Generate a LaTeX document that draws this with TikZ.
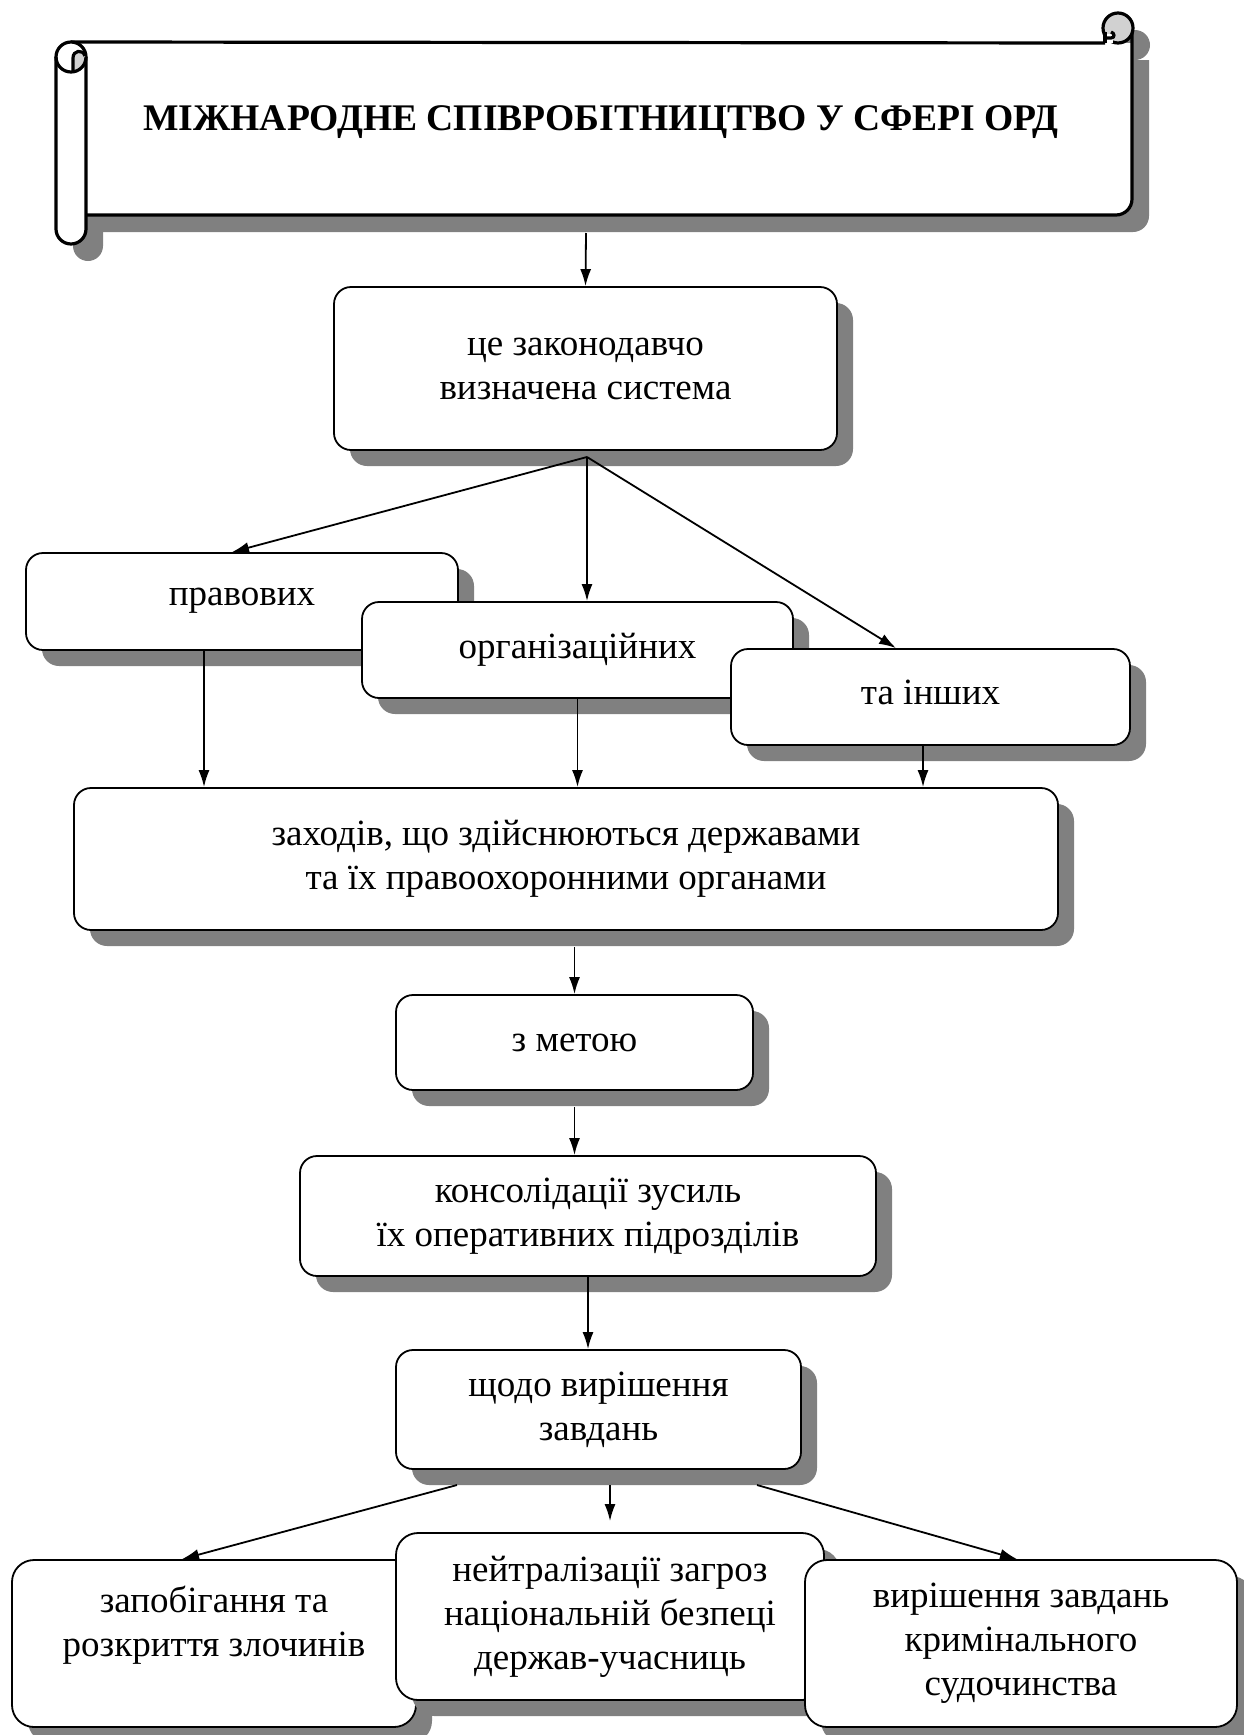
\documentclass[tikz,border=0pt]{standalone}
\usepackage{fontspec}
\setmainfont{Liberation Serif}
\usetikzlibrary{shadows}
\usetikzlibrary{calc}
\usetikzlibrary{arrows.meta}
\definecolor{shadowgray}{gray}{0.5}
\definecolor{curlgray}{gray}{0.82}
\tikzset{
    mybox/.style = {rectangle, rounded corners=8.5pt, draw=black, line width=0.9pt, fill=white, align=center, inner sep=0pt,
        font=\fontsize{18.5}{22}\selectfont,
        drop shadow={shadow xshift=8pt, shadow yshift=-8pt, fill=shadowgray, opacity=1}},
    myboxr/.style = {mybox, rounded corners=11pt},
    sz/.style 2 args = {minimum width=#1*0.5pt, minimum height=#2*0.5pt},
    titletext/.style = {font=\fontsize{18.8}{22}\selectfont\bfseries},
    scrolline/.style = {line width=1.6pt, line join=round},
    edgen/.style = {-{Latex[length=8.5pt,width=5.5pt]}, line width=0.9pt},
}

\begin{document}
\begin{tikzpicture}[x=0.5pt, y=-0.5pt]
\useasboundingbox (0,0) rectangle (1243,1735);

% scroll: shadow first
\begin{scope}[shift={(17,17)}]
\fill[shadowgray] (86,43) -- (1132,43) -- (1132,199) arc[start angle=0, end angle=-90, radius=8pt] -- (86,215) -- cycle;
\fill[shadowgray] (1118,28) circle[radius=7.5pt];
\fill[shadowgray, rounded corners=7.5pt] (56,42) rectangle (86,244);
\end{scope}
\fill[white] (86,43) -- (1132,43) -- (1132,199) arc[start angle=0, end angle=-90, radius=8pt] -- (86,215) -- cycle;
\draw[scrolline] (71,42) -- (1105,43);
\draw[scrolline] (1132,28) -- (1132,199) arc[start angle=0, end angle=-90, radius=8pt] -- (86,215);
% left roll
\filldraw[scrolline, fill=white, rounded corners=7.5pt] (56,42) rectangle (86,244);
\fill[curlgray] (73,72) -- (73,58) .. controls (73,49) and (83,49) .. (85,56) .. controls (86,64) and (80,71) .. (73,72) -- cycle;
\draw[scrolline] (56,57) arc[start angle=180, end angle=360, radius=7.5pt];
\draw[scrolline] (73,72) -- (73,58) .. controls (73,50) and (83,49) .. (85,56);
% right curl
\filldraw[scrolline, fill=curlgray] (1118,28) circle[radius=7.5pt];
\fill[white] (1105,34) rectangle (1113,43);
\draw[scrolline] (1105,43) -- (1105,32);
\draw[scrolline] (1105,38) -- (1111,38) .. controls (1115,38) and (1115,33) .. (1111,32);

\node[titletext] at (601,122) (title) {МІЖНАРОДНЕ СПІВРОБІТНИЦТВО У СФЕРІ ОРД};
\coordinate (scrollbot) at (586,233);

\node[mybox, sz={503}{163}] at (585.5,368.5) (sys) {це законодавчо\\визначена система};
\coordinate (fan1) at (587,457);

\node[mybox, sz={432}{97}] at (242,601.5) (prav) {\raisebox{4.5pt}{правових}};
\node[mybox, sz={431}{96}] at (577.5,650) (org) {\raisebox{4.5pt}{організаційних}};
\node[mybox, sz={399}{96}] at (930.5,697) (inshi) {\raisebox{4.5pt}{та інших}};

\node[mybox, sz={984}{142}] at (566,859) (zakh) {заходів, що здійснюються державами\\та їх правоохоронними органами};
\node[mybox, sz={357}{95}] at (574.5,1042.5) (meta) {з метою};
\node[mybox, sz={576}{120}] at (588,1216) (kons) {консолідації зусиль\\їх оперативних підрозділів};
\node[mybox, sz={405}{119}] at (598.5,1409.5) (shcho) {щодо вирішення\\завдань};

\coordinate (out1) at (457,1485);
\coordinate (out2) at (610,1485);
\coordinate (out3) at (757,1485);

\node[myboxr, sz={404}{167}] at (214,1643.5) (zap) {запобігання та\\розкриття злочинів\\~};
\node[myboxr, sz={428}{167}] at (610,1616.5) (neit) {нейтралізації загроз\\національній безпеці\\держав-учасниць};
\node[myboxr, sz={432}{167}] at (1021,1643.5) (vyr) {вирішення завдань\\кримінального\\судочинства};

\draw[edgen] (scrollbot) -- (sys.north);
\draw[edgen] (fan1) -- ($(prav.north)+(-10,0)$);
\draw[edgen] (fan1) -- ($(org.north)+(9.5,0)$);
\draw[edgen] (fan1) -- ($(inshi.north)+(-34.5,0)$);

\draw[edgen] ($(prav.south)+(-38,0)$) -- ($(prav.south |- zakh.north)+(-38,0)$);
\draw[edgen] (org.south) -- (org.south |- zakh.north);
\draw[edgen] ($(inshi.south)+(-7.5,0)$) -- ($(inshi.south |- zakh.north)+(-7.5,0)$);

\draw[edgen] ($(meta.north |- zakh.south)+(0,16)$) -- (meta.north);
\draw[edgen] ($(meta.south)+(0,16)$) -- (meta.south |- kons.north);
\draw[edgen] (kons.south) -- (kons.south |- shcho.north);

\draw[edgen] (out1) -- ($(zap.north)+(-32,0)$);
\draw[edgen] (out2) -- ($(neit.north)+(0,-11)$);
\draw[edgen] (out3) -- ($(vyr.north)+(-4,0)$);

\end{tikzpicture}
\end{document}
